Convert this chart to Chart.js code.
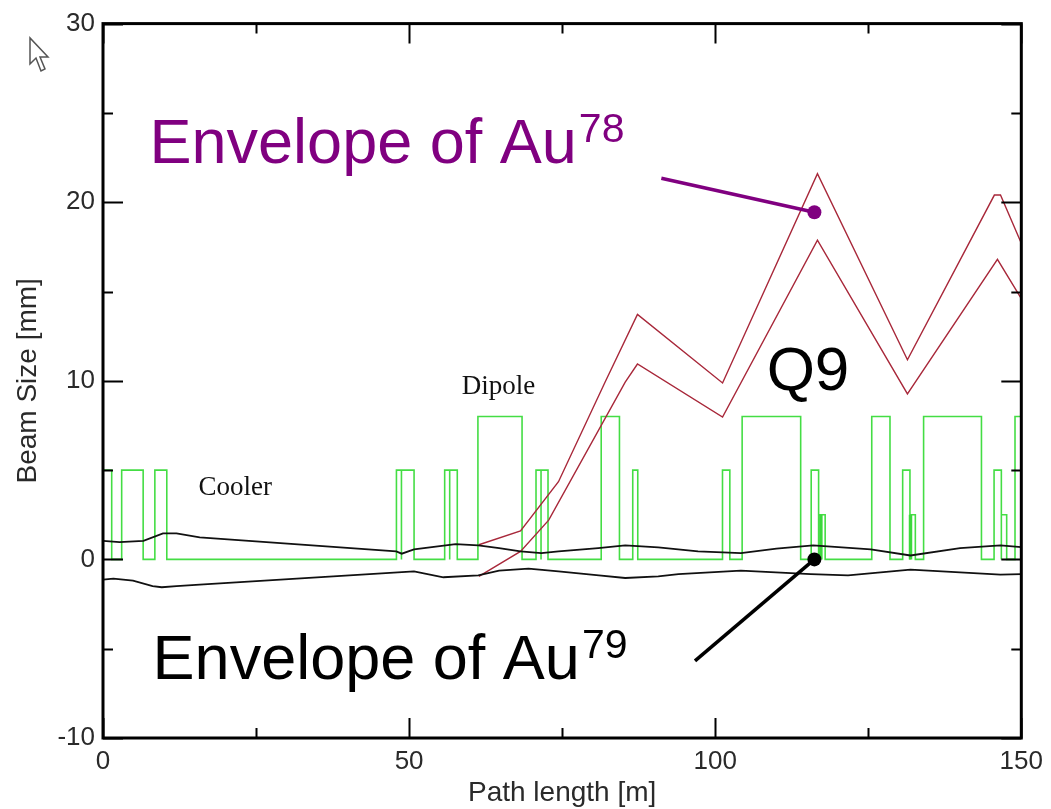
<!DOCTYPE html>
<html>
<head>
<meta charset="utf-8">
<title>Beam envelope</title>
<script src="https://cdn.jsdelivr.net/npm/chart.js@4/dist/chart.umd.min.js"></script>
<style>
    html, body { margin: 0; padding: 0; background: #fff; }
    #beamChart { display: block; }
</style>
</head>
<body>
<canvas id="beamChart" width="1051" height="809"></canvas>
<script>
// Lattice elements along the ring: start [m], end [m], drawn height
const elemStart  = [0, 3.05, 8.47, 47.93, 48.75, 55.81, 56.63, 61.24, 70.73, 71.55, 81.38, 86.53, 101.19, 104.40, 115.68, 116.89, 125.57, 130.62, 131.81, 134.04, 145.55, 146.74, 148.97];
const elemEnd    = [1.42, 6.56, 10.42, 48.75, 50.81, 56.63, 57.87, 68.45, 71.55, 72.69, 84.36, 87.35, 102.39, 113.96, 116.89, 117.96, 128.55, 131.81, 132.69, 143.49, 146.74, 147.61, 151];
const elemHeight = [5, 5, 5, 5, 5, 5, 5, 8, 5, 5, 8, 5, 5, 8, 5, 2.5, 8, 5, 2.5, 8, 5, 2.5, 8];
// thin kickers
const kickerPos    = [117.26, 131.9];
const kickerHeight = [2.5, 2.5];

// Au79 envelope (upper / lower edge)
const au79UpperS = [0, 2.7, 6.6, 9.8, 12.0, 15.8, 47.9, 48.8, 50.8, 57.6, 61.3, 64.7, 68.2, 71.6, 74.4, 80.9, 85.3, 90.7, 97.2, 104.2, 110, 116, 125.4, 131.9, 140, 146.6, 150];
const au79UpperY = [1.04, 0.97, 1.04, 1.46, 1.46, 1.23, 0.45, 0.32, 0.56, 0.85, 0.78, 0.63, 0.45, 0.35, 0.45, 0.63, 0.78, 0.67, 0.45, 0.35, 0.6, 0.78, 0.56, 0.22, 0.63, 0.78, 0.69];
const au79LowerS = [0, 1.7, 4.9, 8.1, 9.6, 12.0, 15.8, 50.8, 55.6, 61.3, 64.7, 69.5, 74.4, 81.0, 85.3, 90.7, 94.0, 104.2, 115.6, 121.7, 131.9, 146.6, 150];
const au79LowerY = [-1.13, -1.08, -1.19, -1.5, -1.56, -1.5, -1.41, -0.67, -1.0, -0.9, -0.63, -0.52, -0.67, -0.89, -1.04, -0.95, -0.82, -0.63, -0.82, -0.89, -0.57, -0.85, -0.82];

// Au78 envelope, starts at the dipole
const au78UpperS = [61.4, 68.2, 74.4, 82.0, 87.3, 101.2, 116.7, 131.4, 145.6, 146.6, 150];
const au78UpperY = [0.82, 1.6, 4.35, 9.92, 13.72, 9.88, 21.6, 11.18, 20.4, 20.4, 17.7];
const au78LowerS = [61.4, 68.2, 72.8, 85.3, 87.3, 101.2, 116.7, 131.4, 146.1, 150];
const au78LowerY = [-0.95, 0.45, 2.2, 9.92, 10.94, 7.97, 17.87, 9.27, 16.8, 14.6];

const xTicks = [0, 50, 100, 150];
const yTicks = [-10, 0, 10, 20, 30];

const SANS = '"Liberation Sans", Arial, sans-serif';
const SERIF = '"Liberation Serif", "Times New Roman", serif';

function toPoints(xs, ys){
    return xs.map((x, i) => ({x: x, y: ys[i]}));
}

/**
 * Outline of the element boxes, sitting on the zero line
 */
function elementOutline(){
    const pts = [];
    elemStart.forEach((s, i) => {
        pts.push({x: s, y: 0});
        pts.push({x: s, y: elemHeight[i]});
        pts.push({x: elemEnd[i], y: elemHeight[i]});
        pts.push({x: elemEnd[i], y: 0});
    });
    return pts;
}

function kickerLines(){
    const pts = [];
    kickerPos.forEach((s, i) => {
        pts.push({x: s, y: 0});
        pts.push({x: s, y: kickerHeight[i]});
        pts.push({x: s, y: null});
    });
    return pts;
}

// Frame with inward ticks on all four sides, plus the mouse pointer
const framePlugin = {
    id: 'frame',
    afterDatasetsDraw(chart){
        const {ctx, chartArea: a, scales: {x, y}} = chart;
        ctx.save();
        ctx.strokeStyle = '#000';
        ctx.lineWidth = 2;
        ctx.beginPath();
        for (let v = 0; v <= 150; v += 25){
            const len = v % 50 === 0 ? 20 : 10;
            const px = Math.round(x.getPixelForValue(v)) + 0.5;
            ctx.moveTo(px, a.bottom); ctx.lineTo(px, a.bottom - len);
            ctx.moveTo(px, a.top); ctx.lineTo(px, a.top + len);
        }
        for (let v = -10; v <= 30; v += 5){
            const len = v % 10 === 0 ? 20 : 10;
            const py = Math.round(y.getPixelForValue(v)) + 0.5;
            ctx.moveTo(a.left, py); ctx.lineTo(a.left + len, py);
            ctx.moveTo(a.right, py); ctx.lineTo(a.right - len, py);
        }
        ctx.stroke();
        ctx.lineWidth = 3;
        ctx.strokeRect(a.left, a.top, a.right - a.left, a.bottom - a.top);

        // axis titles
        ctx.fillStyle = '#2a2a2a';
        ctx.font = '28px ' + SANS;
        ctx.textAlign = 'center';
        ctx.textBaseline = 'alphabetic';
        ctx.fillText('Path length [m]', (a.left + a.right) / 2, 801);
        ctx.save();
        ctx.translate(36, (a.top + a.bottom) / 2);
        ctx.rotate(-Math.PI / 2);
        ctx.font = '28px ' + SANS;
        ctx.fillText('Beam Size [mm]', 0, 0);
        ctx.restore();

        // pointer
        ctx.beginPath();
        ctx.moveTo(30, 38); ctx.lineTo(30, 64); ctx.lineTo(36, 58);
        ctx.lineTo(41, 71); ctx.lineTo(45, 69); ctx.lineTo(40, 57);
        ctx.lineTo(48, 57); ctx.closePath();
        ctx.fillStyle = '#fff';
        ctx.fill();
        ctx.strokeStyle = '#555';
        ctx.lineWidth = 1.5;
        ctx.stroke();
        ctx.restore();
    }
};

// Labels and pointer lines for the two envelopes
const notePlugin = {
    id: 'notes',
    afterDatasetsDraw(chart){
        const {ctx, scales: {x, y}} = chart;
        const X = v => x.getPixelForValue(v);
        const Y = v => y.getPixelForValue(v);
        ctx.save();

        function pointer(x0, y0, x1, y1, color){
            ctx.strokeStyle = color;
            ctx.fillStyle = color;
            ctx.lineWidth = 3.5;
            ctx.beginPath();
            ctx.moveTo(X(x0), Y(y0));
            ctx.lineTo(X(x1), Y(y1));
            ctx.stroke();
            ctx.beginPath();
            ctx.arc(X(x1), Y(y1), 7, 0, Math.PI * 2);
            ctx.fill();
        }

        function label(text, sup, xv, yv, color){
            ctx.fillStyle = color;
            ctx.textAlign = 'left';
            ctx.textBaseline = 'alphabetic';
            ctx.font = '63px ' + SANS;
            const px = X(xv), py = Y(yv);
            ctx.fillText(text, px, py);
            const w = ctx.measureText(text).width;
            ctx.font = '41px ' + SANS;
            ctx.fillText(sup, px + w + 2, py - 21);
        }

        pointer(91.2, 21.34, 116.2, 19.44, '#800080');
        pointer(96.7, -5.68, 116.2, 0, '#000');
        label('Envelope of Au', '78', 7.6, 22.17, '#800080');
        label('Envelope of Au', '79', 8.1, -6.7, '#000');

        ctx.fillStyle = '#000';
        ctx.font = '62px ' + SANS;
        ctx.fillText('Q9', X(108.4), Y(9.47));

        ctx.fillStyle = '#111';
        ctx.font = '27px ' + SERIF;
        ctx.fillText('Dipole', X(58.6), Y(9.25));
        ctx.fillText('Cooler', X(15.6), Y(3.6));
        ctx.restore();
    }
};

const ctx = document.getElementById('beamChart').getContext('2d');
const beamChart = new Chart(ctx, {
    type: 'line',
    data: {
        datasets: [
            { label: 'Au79 upper', data: toPoints(au79UpperS, au79UpperY), borderColor: '#111', borderWidth: 1.8 },
            { label: 'Au79 lower', data: toPoints(au79LowerS, au79LowerY), borderColor: '#111', borderWidth: 1.8 },
            { label: 'Au78 upper', data: toPoints(au78UpperS, au78UpperY), borderColor: '#a8283a', borderWidth: 1.4 },
            { label: 'Au78 lower', data: toPoints(au78LowerS, au78LowerY), borderColor: '#a8283a', borderWidth: 1.4 },
            { label: 'Kickers', data: kickerLines(), borderColor: '#3cd83c', borderWidth: 3.5, spanGaps: false },
            { label: 'Elements', data: elementOutline(), borderColor: '#44dd44', borderWidth: 1.6 }
        ]
    },
    options: {
        responsive: false,
        animation: false,
        layout: { padding: { left: 0, right: 27, top: 20, bottom: 0 } },
        elements: {
            point: { radius: 0 },
            line: { tension: 0, fill: false }
        },
        plugins: {
            legend: { display: false },
            tooltip: { enabled: false }
        },
        scales: {
            x: {
                type: 'linear',
                min: 0,
                max: 150,
                afterBuildTicks: s => { s.ticks = xTicks.map(v => ({value: v})); },
                afterFit: s => { s.height = 71; },
                ticks: { padding: 8, color: '#2a2a2a', font: { family: SANS, size: 26 } },
                grid: { display: false, drawTicks: false },
                border: { display: false }
            },
            y: {
                type: 'linear',
                min: -10,
                max: 30,
                afterBuildTicks: s => { s.ticks = yTicks.map(v => ({value: v})); },
                afterFit: s => { s.width = 103; },
                ticks: { padding: 8, color: '#2a2a2a', font: { family: SANS, size: 26 } },
                grid: { display: false, drawTicks: false },
                border: { display: false }
            }
        }
    },
    plugins: [framePlugin, notePlugin]
});
</script>
</body>
</html>
